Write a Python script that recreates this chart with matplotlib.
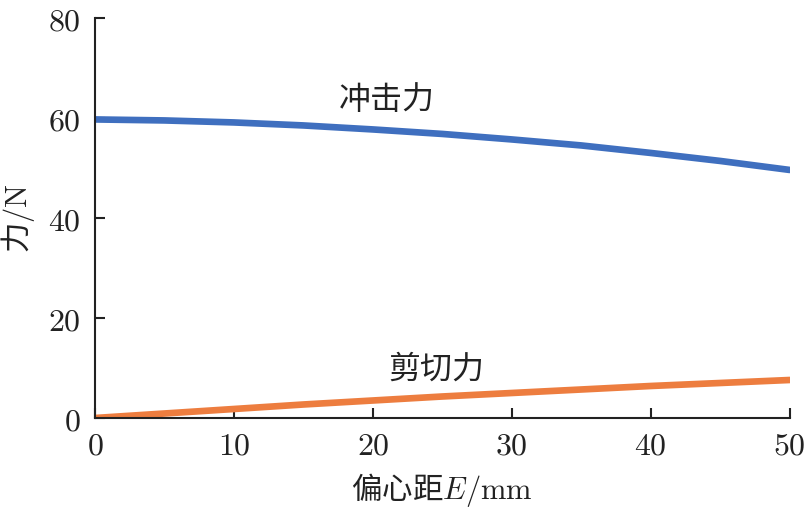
import matplotlib
matplotlib.use("Agg")
import matplotlib.pyplot as plt
from matplotlib.ticker import FuncFormatter

plt.rcParams['font.family'] = ['Noto Sans CJK SC', 'DejaVu Sans']
plt.rcParams['mathtext.fontset'] = 'cm'

eccentricity = [0, 5, 10, 15, 20, 25, 30, 35, 40, 45, 50]
impact_force = [59.7, 59.5, 59.1, 58.5, 57.7, 56.8, 55.7, 54.5, 53.0, 51.4, 49.6]
shear_force = [0.0, 0.9, 1.8, 2.7, 3.5, 4.3, 5.0, 5.7, 6.4, 7.0, 7.6]
x_ticks = [0, 10, 20, 30, 40, 50]
y_ticks = [0, 20, 40, 60, 80]

fig = plt.figure(figsize=(8.05, 5.12), dpi=100)
ax = fig.add_axes([0.118, 0.1836, 0.863, 0.7814])

ax.plot(eccentricity, impact_force, color='#3F6FBF', lw=4.8, solid_capstyle='round')
ax.plot(eccentricity, shear_force, color='#ED7D3F', lw=4.8, solid_capstyle='round')

ax.set_xlim(0, 50)
ax.set_ylim(0, 80)
ax.set_xticks(x_ticks)
ax.set_yticks(y_ticks)
fmt = FuncFormatter(lambda v, p: r'$%d$' % v)
ax.xaxis.set_major_formatter(fmt)
ax.yaxis.set_major_formatter(fmt)
ax.tick_params(direction='in', length=7, width=1.5, labelsize=23, colors='#222222')
ax.tick_params(axis='y', pad=10)
ax.tick_params(axis='x', pad=8)
for s in ['top', 'right']:
    ax.spines[s].set_visible(False)
for s in ['left', 'bottom']:
    ax.spines[s].set_linewidth(1.5)
    ax.spines[s].set_color('#222222')

ax.set_xlabel(r'偏心距$E/\mathrm{mm}$', fontsize=22, labelpad=7, color='#222222',
              fontweight='light')
ax.set_ylabel(r'力$/\mathrm{N}$', fontsize=22, labelpad=8, color='#222222',
              fontweight='light')

ax.text(21.0, 63.6, '冲击力', fontsize=23, ha='center', va='center', color='#222222',
        fontweight='light')
ax.text(24.6, 9.6, '剪切力', fontsize=23, ha='center', va='center', color='#222222',
        fontweight='light')

fig.savefig('out.png', dpi=100)
